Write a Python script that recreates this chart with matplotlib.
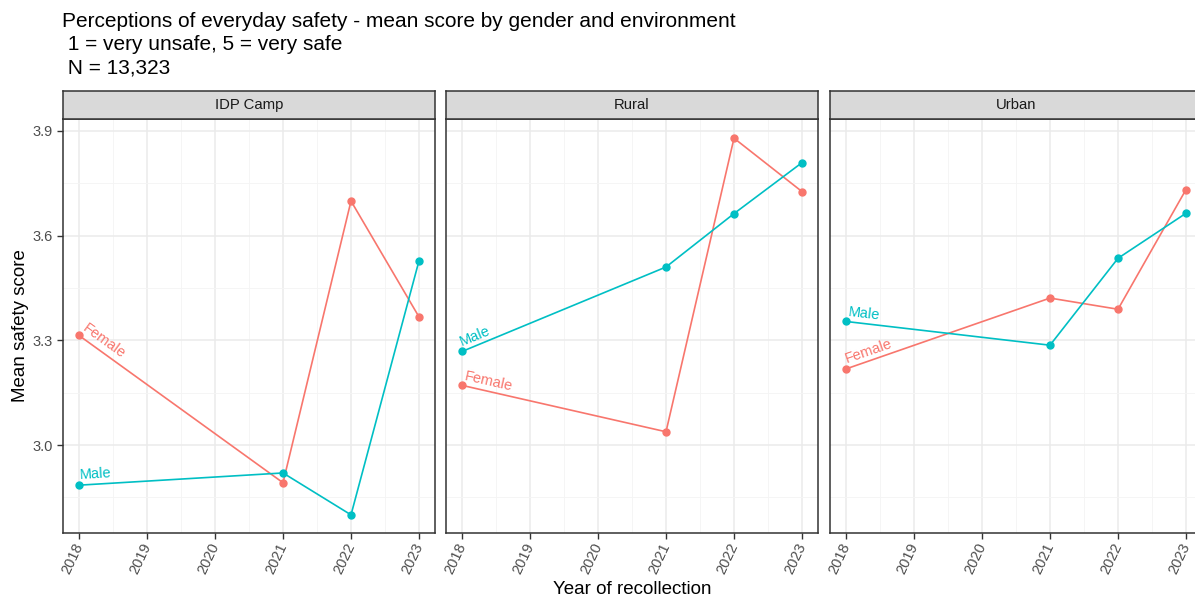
import numpy as np
import matplotlib.pyplot as plt

plt.rcParams["font.family"] = ["Liberation Sans", "DejaVu Sans"]

years = [2018, 2021, 2022, 2023]
environments = ["IDP Camp", "Rural", "Urban"]
female = {
    "IDP Camp": [3.314, 2.892, 3.699, 3.367],
    "Rural": [3.171, 3.038, 3.879, 3.726],
    "Urban": [3.218, 3.421, 3.389, 3.732],
}
male = {
    "IDP Camp": [2.885, 2.920, 2.800, 3.528],
    "Rural": [3.268, 3.510, 3.663, 3.809],
    "Urban": [3.354, 3.286, 3.535, 3.664],
}
year_ticks = [2018, 2019, 2020, 2021, 2022, 2023]
y_ticks = [3.0, 3.3, 3.6, 3.9]

FEMALE_COL = "#F8766D"
MALE_COL = "#00BFC4"
GRID_MAJOR = "#EBEBEB"
GRID_MINOR = "#F4F4F4"

W, H = 1195, 598
fig = plt.figure(figsize=(W / 100, H / 100), dpi=100)
fig.patch.set_facecolor("white")

panel_left = [63, 446, 830]
panel_w = 372
panel_top, panel_bottom = 119, 533
strip_top = 91

axes = []
for env, left in zip(environments, panel_left):
    ax = fig.add_axes([left / W, 1 - panel_bottom / H, panel_w / W,
                       (panel_bottom - panel_top) / H])
    ax.set_xticks(year_ticks)
    ax.set_xticks(np.arange(2018.5, 2023, 1.0), minor=True)
    ax.set_yticks(y_ticks)
    ax.set_yticks([2.85, 3.15, 3.45, 3.75], minor=True)
    ax.set_xlim(2017.765, 2023.235)
    ax.set_ylim(2.748, 3.934)
    ax.grid(which="major", color=GRID_MAJOR, linewidth=1.1)
    ax.grid(which="minor", color=GRID_MINOR, linewidth=0.6)
    ax.set_axisbelow(True)
    for sp in ax.spines.values():
        sp.set_color("#333333")
        sp.set_linewidth(1.1)
    ax.tick_params(which="major", length=4, color="#333333", width=1.0,
                   labelsize=10.5, labelcolor="#4D4D4D")
    ax.tick_params(which="minor", length=0)
    ax.set_xticklabels([str(y) for y in year_ticks], rotation=65,
                       ha="right", va="center", rotation_mode="anchor")
    if left != panel_left[0]:
        ax.tick_params(axis="y", left=False, labelleft=False)

    ax.plot(years, female[env], color=FEMALE_COL, lw=1.2, marker="o", ms=5, zorder=3)
    ax.plot(years, male[env], color=MALE_COL, lw=1.2, marker="o", ms=5, zorder=3)

    # strip
    sax = fig.add_axes([left / W, 1 - panel_top / H, panel_w / W,
                        (panel_top - strip_top) / H])
    sax.set_facecolor("#D9D9D9")
    sax.set_xticks([])
    sax.set_yticks([])
    for sp in sax.spines.values():
        sp.set_color("#333333")
        sp.set_linewidth(1.1)
    sax.text(0.5, 0.5, env, ha="center", va="center", fontsize=10.7,
             color="#1A1A1A", transform=sax.transAxes)
    axes.append((env, ax))

# angled labels at the start of each line
for env, ax in axes:
    for name, vals, col in (("Female", female[env], FEMALE_COL),
                            ("Male", male[env], MALE_COL)):
        p0 = ax.transData.transform((years[0], vals[0]))
        p1 = ax.transData.transform((years[1], vals[1]))
        ang = np.degrees(np.arctan2(p1[1] - p0[1], p1[0] - p0[0]))
        ax.annotate(name, (years[0], vals[0]), xytext=(1, 2),
                    textcoords="offset points", rotation=ang,
                    rotation_mode="anchor", ha="left", va="bottom",
                    fontsize=10.5, color=col)

axes[0][1].set_ylabel("Mean safety score", fontsize=13.5, labelpad=2)
fig.text(632 / W, 1 - 590 / H, "Year of recollection", ha="center",
         va="center", fontsize=13.5)

fig.text(62 / W, 1 - 12 / H,
         "Perceptions of everyday safety - mean score by gender and environment\n"
         " 1 = very unsafe, 5 = very safe\n N = 13,323",
         ha="left", va="top", fontsize=15, linespacing=1.3)

fig.savefig("out.png", dpi=100, facecolor="white")
